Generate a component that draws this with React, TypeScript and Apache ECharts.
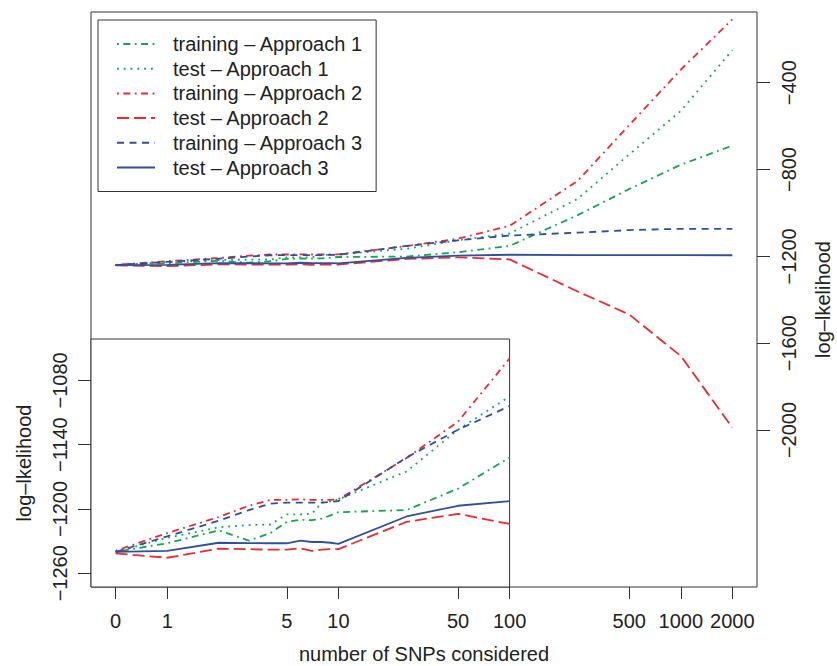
import React, { useEffect, useRef } from "react";
import * as echarts from "echarts";

// ---- data ----
const SNPS = [0, 1, 2, 3, 4, 5, 6, 7, 8, 9, 10, 25, 50, 100, 250, 500, 1000, 2000];

const TRAIN_A1 = [-1240, -1232, -1220, -1229.5, -1222.5, -1212, -1210, -1210.5, -1209, -1206, -1203, -1201, -1181, -1152, -1010, -890, -778, -690];
const TEST_A1 = [-1240, -1227, -1217, -1215, -1214.5, -1205, -1205, -1204.5, -1194, -1193, -1191, -1165, -1126, -1095, -935, -730, -530, -250];
const TRAIN_A2 = [-1239, -1222.5, -1207.5, -1197, -1191.5, -1191.5, -1191, -1191.5, -1191.5, -1191.5, -1191, -1152.5, -1118.5, -1059.5, -852, -595, -340, -108];
const TEST_A2 = [-1241.5, -1245.5, -1237, -1237.5, -1238, -1238, -1236.7, -1239, -1238, -1237.5, -1237.5, -1212, -1204.5, -1214, -1362, -1468, -1659, -1989];
const TRAIN_A3 = [-1240, -1225.5, -1211, -1201, -1195, -1194, -1194, -1194, -1194, -1193.5, -1192.6, -1152, -1126, -1104, -1091, -1079, -1073, -1073];
const TEST_A3 = [-1240, -1239, -1231.5, -1231.8, -1232, -1232, -1229.6, -1230.8, -1230.8, -1231.5, -1232.5, -1207, -1197, -1192.6, -1194, -1194, -1194.5, -1195];

const SERIES_NAMES = [
  "training – Approach 1",
  "test – Approach 1",
  "training – Approach 2",
  "test – Approach 2",
  "training – Approach 3",
  "test – Approach 3",
];
const SERIES_VALUES = [TRAIN_A1, TEST_A1, TRAIN_A2, TEST_A2, TRAIN_A3, TEST_A3];

const X_TICKS = [0, 1, 5, 10, 50, 100, 500, 1000, 2000];
const MAIN_Y_TICKS = [-2000, -1600, -1200, -800, -400];
const INSET_Y_TICKS = [-1260, -1200, -1140, -1080];
const INSET_MAX_SNPS = 100;

// ---- styles ----
const GREEN = "#12a64e";
const RED = "#ec2a2f";
const BLUE = "#2f4f9f";
const DOTDASH = [1.8, 4.5, 7, 4.5];
const STYLES = [
  { color: GREEN, type: DOTDASH },
  { color: GREEN, type: [1.8, 5] },
  { color: RED, type: DOTDASH },
  { color: RED, type: [12, 5] },
  { color: BLUE, type: [7, 5.5] },
  { color: BLUE, type: "solid" },
];

const FONT = "'Liberation Sans', Arial, Helvetica, sans-serif";
const TEXT = "#222";
const BORDER = "#333";
const LINE_W = 1.8;

// position on the x scale: log10, with 0 placed at 0.5
const pos = (n: number) => Math.log10(Math.max(n, 0.5));
const X_MIN = pos(0) - 0.04 * (pos(2000) - pos(0));
const X_MAX = pos(2000) + 0.04 * (pos(2000) - pos(0));

const minus = (v: number) => String(v).replace("-", "\u2212");

export default function App() {
  const ref = useRef<HTMLDivElement>(null);

  useEffect(() => {
    if (!ref.current) return;
    const chart = echarts.init(ref.current, undefined, { renderer: "svg" });

    const mkSeries = (i: number, vals: number[], inset: boolean) => ({
      name: SERIES_NAMES[i],
      type: "line",
      xAxisIndex: inset ? 1 : 0,
      yAxisIndex: inset ? 1 : 0,
      symbol: "none",
      color: STYLES[i].color,
      lineStyle: { color: STYLES[i].color, width: LINE_W, type: STYLES[i].type, cap: "butt" },
      data: SNPS.filter((s) => !inset || s <= INSET_MAX_SNPS).map((s, j) => [pos(s), vals[j]]),
      z: inset ? 4 : 2,
    });

    const mainSeries = SERIES_VALUES.map((vals, i) => mkSeries(i, vals, false));
    const insetSeries = SERIES_VALUES.map((vals, i) => mkSeries(i, vals, true));

    const xTickPos = X_TICKS.map(pos);

    chart.setOption({
      animation: false,
      textStyle: { fontFamily: FONT },
      grid: [
        {
          left: 91, top: 12, width: 666, height: 575,
          show: true, borderColor: BORDER, borderWidth: 1, backgroundColor: "transparent",
          outerBoundsMode: "none", containLabel: false, z: 0,
        },
        {
          left: 91, top: 339, width: (pos(INSET_MAX_SNPS) - X_MIN) / (X_MAX - X_MIN) * 666, height: 248,
          show: true, borderColor: BORDER, borderWidth: 1, backgroundColor: "#fff",
          outerBoundsMode: "none", containLabel: false, z: 3,
        },
      ],
      xAxis: [
        {
          type: "value", gridIndex: 0, min: X_MIN, max: X_MAX, position: "bottom",
          axisLine: { show: false, onZero: false },
          splitLine: { show: false },
          axisTick: { show: true, customValues: xTickPos, length: 12, lineStyle: { color: BORDER, width: 1 } },
          axisLabel: {
            show: true, customValues: xTickPos, margin: 24, fontSize: 20, color: TEXT, fontFamily: FONT,
            formatter: (v: number) => {
              const k = xTickPos.findIndex((p) => Math.abs(p - v) < 1e-6);
              return k >= 0 ? String(X_TICKS[k]) : "";
            },
          },
          name: "number of SNPs considered", nameLocation: "middle", nameGap: 58,
          nameTextStyle: { fontSize: 20, color: TEXT, fontFamily: FONT, lineHeight: 18 },
        },
        {
          type: "value", gridIndex: 1, min: X_MIN, max: pos(INSET_MAX_SNPS), show: false,
          axisLine: { show: false, onZero: false },
          axisTick: { show: false },
          axisLabel: { show: false },
          splitLine: { show: false },
        },
      ],
      yAxis: [
        {
          type: "value", gridIndex: 0, position: "right", min: -2723.3, max: -74.3,
          axisLine: { show: false, onZero: false },
          splitLine: { show: false },
          axisTick: { show: true, customValues: MAIN_Y_TICKS, length: 13, lineStyle: { color: BORDER, width: 1 } },
          axisLabel: {
            show: true, customValues: MAIN_Y_TICKS, rotate: 90, margin: 22, fontSize: 20, color: TEXT, fontFamily: FONT,
            formatter: (v: number) => minus(v),
          },
          name: "log\u2013lkelihood", nameLocation: "middle", nameGap: 56, nameRotate: 90,
          nameTextStyle: { fontSize: 20, color: TEXT, fontFamily: FONT },
        },
        {
          type: "value", gridIndex: 1, position: "left", min: -1272.8, max: -1041.4,
          axisLine: { show: false, onZero: false },
          splitLine: { show: false },
          axisTick: { show: true, customValues: INSET_Y_TICKS, length: 13, lineStyle: { color: BORDER, width: 1 } },
          axisLabel: {
            show: true, customValues: INSET_Y_TICKS, rotate: 90, margin: 21, fontSize: 20, color: TEXT, fontFamily: FONT,
            formatter: (v: number) => minus(v),
          },
          name: "log\u2013lkelihood", nameLocation: "middle", nameGap: 57, nameRotate: 90,
          nameTextStyle: { fontSize: 20, color: TEXT, fontFamily: FONT },
        },
      ],
      legend: {
        left: 98, top: 20, orient: "vertical",
        padding: [14, 13, 14, 18],
        itemWidth: 38, itemHeight: 14, itemGap: 4.7,
        borderColor: BORDER, borderWidth: 1, backgroundColor: "#fff",
        selectedMode: false,
        data: SERIES_NAMES,
        itemStyle: { opacity: 0, color: "transparent", borderWidth: 0 },
        textStyle: { fontSize: 20, color: TEXT, fontFamily: FONT, lineHeight: 20, padding: [0, 0, 0, 13] },
        z: 10,
      },
      series: [...mainSeries, ...insetSeries],
    });

    return () => chart.dispose();
  }, []);

  return (
    <div
      ref={ref}
      style={{ position: "fixed", left: 0, top: 0, width: 837, height: 666, background: "#fff" }}
    />
  );
}
